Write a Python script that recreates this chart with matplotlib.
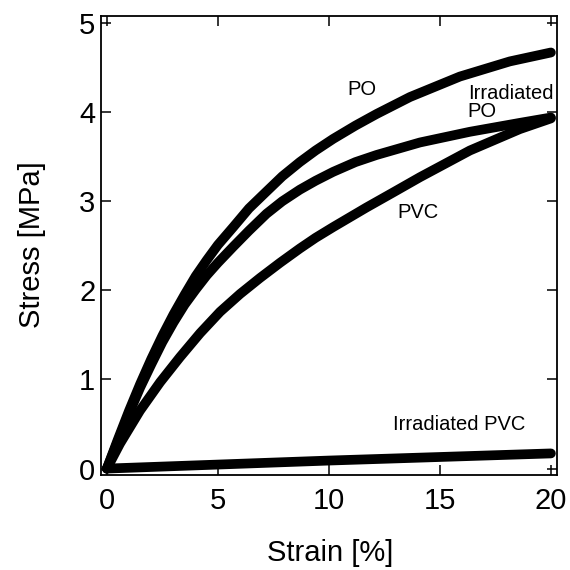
import matplotlib
matplotlib.use("Agg")
import matplotlib.pyplot as plt

po_x = [0, 0.5, 1, 1.5, 2, 2.5, 3, 3.5, 4, 4.5, 5, 5.69, 6.4, 7.19, 7.9, 8.69, 9.4, 10.19, 11.2, 12.15, 13.65, 15.9, 18.15, 20]
po_y = [0, 0.33, 0.65, 0.95, 1.23, 1.49, 1.73, 1.95, 2.16, 2.34, 2.51, 2.71, 2.92, 3.11, 3.28, 3.44, 3.57, 3.70, 3.85, 3.98, 4.17, 4.40, 4.57, 4.67]

ipo_x = [0, 0.5, 1, 1.5, 2, 2.5, 3, 3.5, 4, 4.5, 5, 5.69, 6.4, 7.19, 7.9, 8.69, 9.4, 10.19, 11.2, 12.15, 14.1, 16.35, 18.6, 20]
ipo_y = [0, 0.31, 0.62, 0.91, 1.17, 1.42, 1.64, 1.84, 2.01, 2.17, 2.31, 2.49, 2.67, 2.86, 3.00, 3.13, 3.23, 3.33, 3.44, 3.52, 3.66, 3.78, 3.88, 3.94]

pvc_x = [0, 0.59, 1.49, 2.4, 3.29, 4.2, 5.1, 6.0, 6.9, 7.8, 8.69, 9.4, 10.19, 11.69, 12.9, 14.1, 16.35, 18.6, 20]
pvc_y = [0, 0.28, 0.65, 0.97, 1.25, 1.52, 1.76, 1.96, 2.14, 2.31, 2.47, 2.59, 2.71, 2.93, 3.10, 3.27, 3.57, 3.81, 3.93]

ipvc_x = [0, 5, 10, 15, 20]
ipvc_y = [0, 0.045, 0.09, 0.13, 0.17]

x_ticks = [0, 5, 10, 15, 20]
y_ticks = [0, 1, 2, 3, 4, 5]

plt.rcParams['font.family'] = ['Liberation Sans', 'DejaVu Sans']

fig = plt.figure(figsize=(5.7, 5.7), dpi=100)
ax = fig.add_axes([0.177, 0.167, 0.800, 0.805])

lw = 7
for xs, ys in [(po_x, po_y), (ipo_x, ipo_y), (pvc_x, pvc_y), (ipvc_x, ipvc_y)]:
    ax.plot(xs, ys, color='black', lw=lw, solid_capstyle='round', solid_joinstyle='round')

ax.set_xlim(-0.27, 20.27)
ax.set_ylim(-0.07, 5.08)
ax.set_xticks(x_ticks)
ax.set_yticks(y_ticks)
ax.tick_params(direction='in', length=7, width=1.1, top=True, right=True,
               labelsize=21)
ax.tick_params(axis='y', pad=4)
ax.tick_params(axis='x', pad=9)
for s in ax.spines.values():
    s.set_linewidth(1.3)

ax.set_xlabel('Strain [%]', fontsize=21, va='center')
ax.set_ylabel('Stress [MPa]', fontsize=21, va='center')
ax.xaxis.set_label_coords(0.502, -0.17)
ax.yaxis.set_label_coords(-0.152, 0.501)

ax.text(11.5, 4.26, 'PO', fontsize=14.5, ha='center', va='center')
ax.text(16.26, 4.11, 'Irradiated\nPO', fontsize=14.5, ha='left', va='center', linespacing=0.95)
ax.text(14.0, 2.87, 'PVC', fontsize=14.5, ha='center', va='center')
ax.text(12.9, 0.49, 'Irradiated PVC', fontsize=14.5, ha='left', va='center')

fig.savefig('out.png', dpi=100)
